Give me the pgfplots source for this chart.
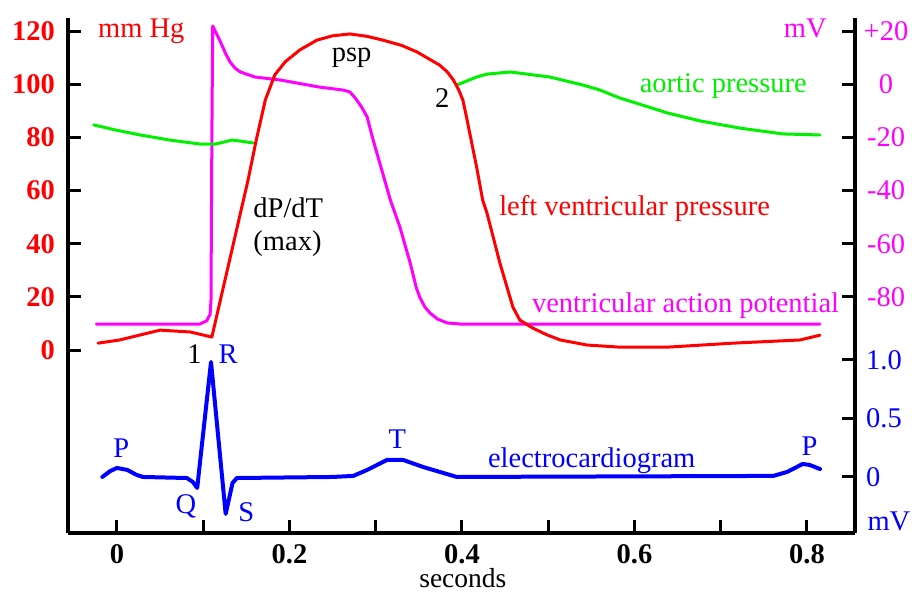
\documentclass[border=0pt]{standalone}
\usepackage{fontspec}
\setmainfont{Liberation Serif}
\usepackage{pgfplots}
\pgfplotsset{compat=1.18}
\definecolor{lvred}{RGB}{255,0,0}
\definecolor{apmag}{RGB}{255,0,255}
\definecolor{aogreen}{RGB}{0,240,0}
\definecolor{ecgblue}{RGB}{0,0,255}
\newcommand{\lab}{\fontsize{28.5}{30}\selectfont}
\pgfplotsset{
  base/.style={
    scale only axis, width=787pt, height=515pt,
    xmin=-0.0568, xmax=0.8557,
    clip=false,
    axis line style={-, line width=4pt, black},
    tick align=inside,
    major tick length=13pt, minor tick length=13pt,
    tick style={line width=3pt, black},
    /pgf/number format/assume math mode=true,
    ticklabel style={font=\lab, inner sep=0pt},
  },
  trace/.style={line width=3pt, line join=round, line cap=round},
}
\begin{document}
\begin{tikzpicture}
% ventricular action potential, right scale (mV)
\begin{axis}[base, ymin=-168.8, ymax=24.9,
    axis x line=none, axis y line*=right,
    ytick={-80,-60,-40,-20,0,20},
    yticklabels={-80,-60,-40,-20,0,+20},
    yticklabel style={anchor=center, xshift=31pt, text=apmag}]
  \addplot[trace, apmag] coordinates {
    (-0.024,-90.2)(0.096,-90.2)(0.104,-89.0)(0.108,-86.5)(0.109,-81.2)(0.110,-19.9)
    (0.111,21.9)(0.119,16.6)(0.126,11.5)(0.131,8.4)(0.137,6.0)(0.143,4.6)(0.160,2.7)(0.189,1.6)
    (0.235,-1.1)(0.262,-2.2)(0.270,-2.9)(0.277,-5.5)(0.284,-8.8)(0.290,-12.3)(0.297,-21.0)
    (0.308,-33.4)(0.317,-43.6)(0.328,-53.7)(0.340,-67.3)(0.347,-76.5)(0.351,-80.1)
    (0.357,-83.8)(0.363,-86.1)(0.372,-88.4)(0.383,-89.8)(0.398,-90.2)(0.815,-90.2)
  };
\end{axis}
% electrocardiogram, lower right scale (mV)
\begin{axis}[base, ymin=-0.479, ymax=3.923,
    axis x line=none, axis y line*=right,
    ytick={0,0.5,1}, yticklabels={0,0.5,1.0},
    yticklabel style={anchor=west, xshift=11pt, text=ecgblue}]
  \addplot[trace, ecgblue, line width=4pt] coordinates {
    (-0.017,0)(-0.008,0.050)(0.000,0.077)(0.012,0.060)(0.022,0.020)(0.030,0)(0.081,-0.009)
    (0.088,-0.043)(0.093,-0.094)(0.109,0.983)(0.126,-0.316)(0.134,-0.051)
    (0.139,-0.009)(0.250,0)(0.274,0.009)(0.290,0.060)(0.313,0.145)
    (0.332,0.145)(0.355,0.085)(0.394,0)(0.761,0.009)(0.777,0.043)
    (0.795,0.111)(0.803,0.103)(0.815,0.068)
  };
\end{axis}
% pressures, left scale (mm Hg)
\begin{axis}[base, ymin=-68.8, ymax=124.9,
    axis x line*=bottom, axis y line*=left,
    xtick={0,0.2,0.4,0.6,0.8}, minor xtick={0.1,0.3,0.5,0.7},
    xticklabels={0,0.2,0.4,0.6,0.8},
    xticklabel style={anchor=north, yshift=-11pt, font=\lab\bfseries},
    ytick={0,20,...,120},
    yticklabel style={anchor=east, xshift=-13pt, font=\lab\bfseries, text=lvred}]
  \coordinate (O) at (rel axis cs:0,0);
  \addplot[trace, aogreen] coordinates {
    (-0.027,84.7)(-0.002,82.8)(0.027,80.9)(0.061,79.0)(0.096,77.5)
    (0.114,77.5)(0.125,78.3)(0.133,79.0)(0.143,78.6)(0.158,77.9)
  };
  \addplot[trace, aogreen] coordinates {
    (0.394,99.7)(0.417,102.7)(0.429,103.8)(0.456,104.6)(0.502,102.7)
    (0.540,99.7)(0.560,97.8)(0.583,94.8)(0.598,93.3)(0.638,89.2)
    (0.676,86.2)(0.722,83.5)(0.772,81.3)(0.815,80.9)
  };
  \addplot[trace, lvred] coordinates {
    (-0.022,2.6)(0.003,3.8)(0.050,7.5)(0.085,6.8)(0.110,4.9)
    (0.152,64.0)(0.161,78.3)(0.172,94.1)(0.183,103.5)(0.195,108.4)
    (0.212,112.9)(0.232,116.6)(0.250,118.2)(0.270,118.9)(0.290,118.0)(0.308,116.6)(0.330,114.6)(0.348,112.1)
    (0.374,107.2)(0.383,104.6)(0.390,101.6)(0.396,98.0)(0.401,94.1)(0.405,88.0)(0.409,81.6)(0.417,68.8)
    (0.424,56.4)(0.429,51.5)(0.444,32.7)(0.459,16.2)(0.467,11.3)
    (0.482,8.3)(0.498,5.8)(0.514,3.8)(0.545,1.9)(0.583,1.1)(0.638,1.1)
    (0.714,2.6)(0.792,3.8)(0.815,5.6)
  };
  \begin{scope}[font=\lab, inner sep=0pt]
    \node[anchor=base west, text=lvred] at (axis cs:-0.022,117.4) {mm Hg};
    \node[anchor=base, text=apmag] at (axis cs:0.798,117.4) {mV};
    \node[anchor=base] at (axis cs:0.272,108.4) {psp};
    \node[anchor=base] at (axis cs:0.377,91.4) {2};
    \node[anchor=base, text=aogreen] at (axis cs:0.703,96.7) {aortic pressure};
    \node[anchor=base west, text=lvred] at (axis cs:0.443,50.8) {left ventricular pressure};
    \node[anchor=base west] at (axis cs:0.158,49.7) {dP/dT};
    \node[anchor=base west] at (axis cs:0.158,37.6) {(max)};
    \node[anchor=base west, text=apmag] at (axis cs:0.481,14.3) {ventricular action potential};
    \node[anchor=base] at (axis cs:0.090,-4.9) {1};
    \node[anchor=base, text=ecgblue] at (axis cs:0.129,-4.9) {R};
    \node[anchor=base, text=ecgblue] at (axis cs:0.005,-40.3) {P};
    \node[anchor=base, text=ecgblue] at (axis cs:0.080,-61.3) {Q};
    \node[anchor=base, text=ecgblue] at (axis cs:0.150,-64.3) {S};
    \node[anchor=base, text=ecgblue] at (axis cs:0.325,-36.9) {T};
    \node[anchor=base west, text=ecgblue] at (axis cs:0.430,-44.0) {electrocardiogram};
    \node[anchor=base, text=ecgblue] at (axis cs:0.803,-39.5) {P};
    \node[anchor=base west, text=ecgblue] at (axis cs:0.870,-67.7) {mV};
    \node[anchor=base, font=\fontsize{27.5}{29}\selectfont] at (axis cs:0.401,-89.2) {seconds};
  \end{scope}
\end{axis}
\pgfresetboundingbox
\path[use as bounding box] ([shift={(-68pt,-59pt)}]O) rectangle ([shift={(844pt,533pt)}]O);
\end{tikzpicture}
\end{document}
